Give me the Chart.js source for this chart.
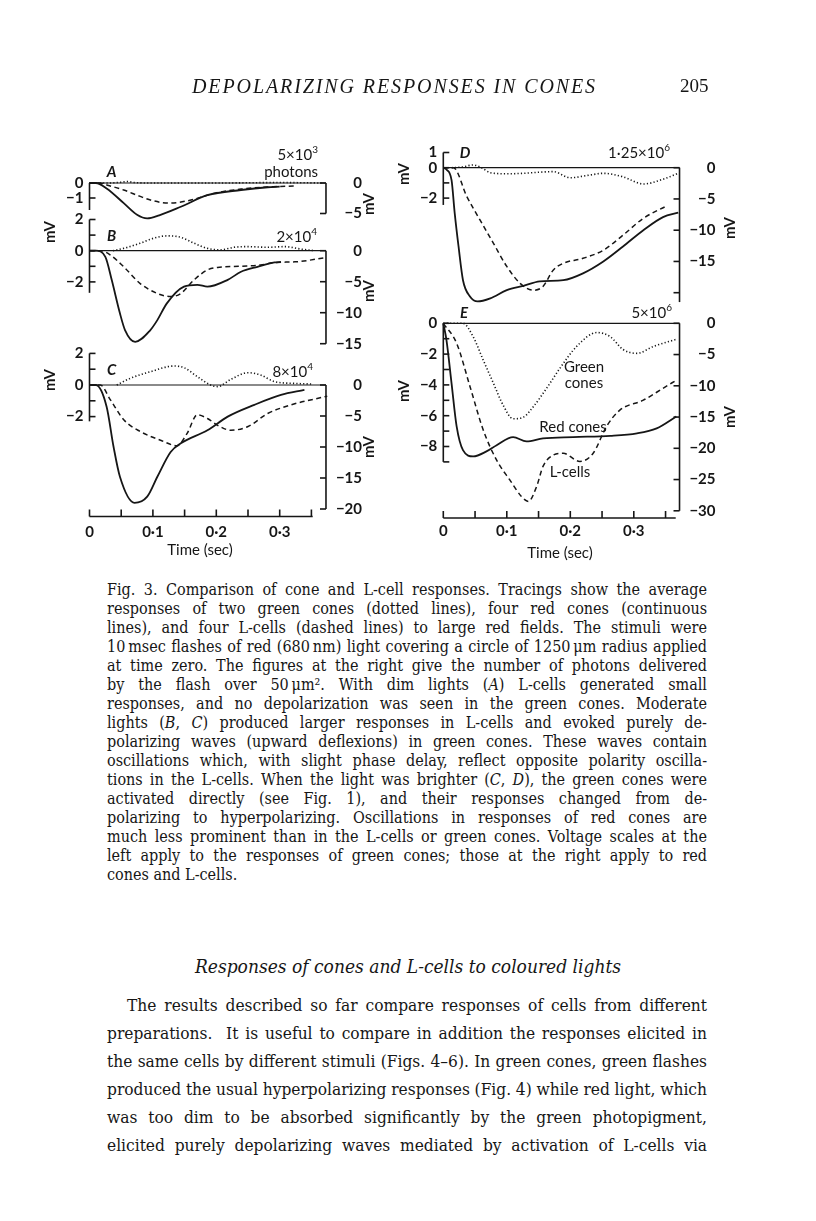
<!DOCTYPE html>
<html>
<head>
<meta charset="utf-8">
<title>Depolarizing responses in cones, Fig. 3</title>
<script src="https://cdn.jsdelivr.net/npm/chart.js@4.4.1/dist/chart.umd.min.js"></script>
<style>
  html, body { margin: 0; padding: 0; background: #fff; }
  body { position: relative; width: 816px; height: 1221px; overflow: hidden; color: #161616; font-family: "Liberation Serif", "DejaVu Serif", serif; }
  #fig { position: absolute; left: 0; top: 0; }
  .runhead { position: absolute; top: 75px; left: 192px; font-style: italic; font-size: 20px; letter-spacing: 1.9px; }
  .folio { position: absolute; top: 75px; left: 680px; font-size: 19px; }
  .book { font-family: "DejaVu Serif Condensed", "DejaVu Serif", serif; font-stretch: condensed; }
  .caption { position: absolute; left: 107px; top: 580px; font-size: 16px; line-height: 19px; }
  .heading { position: absolute; left: 0; width: 816px; top: 955px; text-align: center; font-style: italic; font-size: 19px; }
  .body { position: absolute; left: 107px; top: 991px; font-size: 17.2px; line-height: 28px; }
  .j { display: inline-block; white-space: pre; }
  .indent { padding-left: 20px; }
</style>
</head>
<body>
<canvas id="fig" width="816" height="570"></canvas>

<div class="runhead">DEPOLARIZING RESPONSES IN CONES</div>
<div class="folio">205</div>

<div class="caption book">
  <div><span class="j">Fig. 3. Comparison of cone and L-cell responses. Tracings show the average</span></div>
  <div><span class="j">responses of two green cones (dotted lines), four red cones (continuous</span></div>
  <div><span class="j">lines), and four L-cells (dashed lines) to large red fields. The stimuli were</span></div>
  <div><span class="j">10&#8201;msec flashes of red (680&#8201;nm) light covering a circle of 1250&#8201;μm radius applied</span></div>
  <div><span class="j">at time zero. The figures at the right give the number of photons delivered</span></div>
  <div><span class="j">by the flash over 50&#8201;μm². With dim lights (<i>A</i>) L-cells generated small</span></div>
  <div><span class="j">responses, and no depolarization was seen in the green cones. Moderate</span></div>
  <div><span class="j">lights (<i>B</i>, <i>C</i>) produced larger responses in L-cells and evoked purely de-</span></div>
  <div><span class="j">polarizing waves (upward deflexions) in green cones. These waves contain</span></div>
  <div><span class="j">oscillations which, with slight phase delay, reflect opposite polarity oscilla-</span></div>
  <div><span class="j">tions in the L-cells. When the light was brighter (<i>C</i>, <i>D</i>), the green cones were</span></div>
  <div><span class="j">activated directly (see Fig. 1), and their responses changed from de-</span></div>
  <div><span class="j">polarizing to hyperpolarizing. Oscillations in responses of red cones are</span></div>
  <div><span class="j">much less prominent than in the L-cells or green cones. Voltage scales at the</span></div>
  <div><span class="j">left apply to the responses of green cones; those at the right apply to red</span></div>
  <div><span>cones and L-cells.</span></div>
</div>

<div class="heading book">Responses of cones and L-cells to coloured lights</div>

<div class="body book">
  <div class="indent"><span class="j" data-w="580">The results described so far compare responses of cells from different</span></div>
  <div><span class="j">preparations.  It is useful to compare in addition the responses elicited in</span></div>
  <div><span class="j">the same cells by different stimuli (Figs. 4–6). In green cones, green flashes</span></div>
  <div><span class="j">produced the usual hyperpolarizing responses (Fig. 4) while red light, which</span></div>
  <div><span class="j">was too dim to be absorbed significantly by the green photopigment,</span></div>
  <div><span class="j">elicited purely depolarizing waves mediated by activation of L-cells via</span></div>
</div>

<script>
// tracings: time in sec, voltage in mV
// A: 5x10^3 photons
const aGreenT = [0, 0.03, 0.05, 0.06, 0.07, 0.1, 0.2, 0.3, 0.366];
const aGreenMv = [0, 0, 0.05, 0.1, 0.03, 0, 0, 0.03, 0];
const aRedT = [0, 0.01, 0.027, 0.054, 0.075, 0.091, 0.11, 0.144, 0.186, 0.239, 0.281, 0.3];
const aRedMv = [0, 0, -0.9, -3.3, -5.2, -5.8, -5.3, -3.9, -2.0, -1.15, -0.7, -0.6];
const aLcellT = [0, 0.016, 0.03, 0.054, 0.08, 0.1, 0.125, 0.16, 0.196, 0.239, 0.29, 0.326];
const aLcellMv = [0, 0, -0.4, -1.15, -2.2, -2.9, -3.3, -2.8, -1.7, -1.0, -0.6, -0.5];

// B: 2x10^4
const bGreenT = [0.037, 0.054, 0.08, 0.101, 0.122, 0.144, 0.165, 0.186, 0.207, 0.228, 0.25, 0.281, 0.308, 0.334, 0.355];
const bGreenMv = [0, 0.15, 0.48, 0.8, 0.95, 0.86, 0.48, 0.15, 0.05, 0.22, 0.26, 0.22, 0.26, 0.1, 0];
const bRedT = [0, 0.01, 0.025, 0.035, 0.048, 0.056, 0.072, 0.096, 0.107, 0.122, 0.149, 0.17, 0.186, 0.218, 0.239, 0.265, 0.292, 0.302];
const bRedMv = [0, 0, -1.0, -4.7, -10.1, -12.8, -14.7, -12.8, -11.2, -8.5, -5.8, -5.5, -5.8, -4.7, -3.4, -2.6, -1.9, -1.8];
const bLcellT = [0, 0.017, 0.033, 0.054, 0.08, 0.107, 0.128, 0.144, 0.165, 0.186, 0.202, 0.239, 0.27, 0.292, 0.324, 0.374];
const bLcellMv = [0, 0, -0.7, -2.6, -5.3, -6.9, -7.4, -6.9, -4.7, -3.1, -2.7, -2.5, -2.3, -1.9, -1.8, -1.1];

// C: 8x10^4
const cGreenT = [0.043, 0.064, 0.096, 0.133, 0.149, 0.17, 0.191, 0.202, 0.223, 0.25, 0.27, 0.292, 0.324, 0.35];
const cGreenMv = [0, 0.42, 0.84, 1.2, 1.1, 0.53, 0, -0.1, 0.36, 0.78, 0.63, 0.21, 0.1, 0.06];
const cRedT = [0, 0.01, 0.027, 0.038, 0.048, 0.071, 0.091, 0.107, 0.128, 0.144, 0.186, 0.218, 0.26, 0.302, 0.339];
const cRedMv = [0, 0, -3.5, -10, -14.8, -19.0, -18, -14.8, -10.8, -9.4, -7.3, -5.1, -3.2, -1.6, -0.8];
const cLcellT = [0, 0.017, 0.033, 0.054, 0.08, 0.112, 0.138, 0.154, 0.17, 0.186, 0.202, 0.223, 0.25, 0.281, 0.318, 0.375];
const cLcellMv = [0, 0, -2.4, -5.6, -7.5, -8.9, -9.8, -7.8, -4.8, -5.4, -6.5, -7.3, -6.7, -4.6, -3.2, -1.8];

// D: 1.25x10^6
const dGreenT = [0.013, 0.03, 0.047, 0.06, 0.074, 0.1, 0.126, 0.15, 0.173, 0.2, 0.231, 0.252, 0.283, 0.315, 0.346, 0.37];
const dGreenMv = [0, 0.05, 0.18, 0, -0.33, -0.4, -0.37, -0.3, -0.26, -0.66, -0.48, -0.37, -0.6, -1.07, -0.76, -0.37];
const dRedT = [0, 0.005, 0.013, 0.018, 0.024, 0.031, 0.042, 0.054, 0.074, 0.1, 0.126, 0.152, 0.189, 0.22, 0.252, 0.283, 0.315, 0.346, 0.37];
const dRedMv = [0, -0.3, -2.0, -7.3, -12.6, -18, -20.6, -21.4, -20.9, -19.6, -18.9, -18.2, -18, -16.9, -15, -12.6, -10, -7.9, -7.2];
const dLcellT = [0, 0.016, 0.037, 0.058, 0.079, 0.1, 0.121, 0.142, 0.157, 0.173, 0.189, 0.22, 0.252, 0.283, 0.315, 0.352];
const dLcellMv = [0, 0, -4.6, -8.4, -12.1, -15.8, -18.5, -19.6, -19.0, -16.4, -15.3, -14.5, -13.2, -10.8, -8.1, -6.1];

// E: 5x10^6
const eGreenT = [0, 0.031, 0.047, 0.063, 0.079, 0.094, 0.11, 0.126, 0.142, 0.163, 0.184, 0.21, 0.242, 0.263, 0.283, 0.305, 0.331, 0.367];
const eGreenMv = [0, 0, -0.87, -2.4, -3.9, -5.3, -6.2, -6.1, -5.4, -4.2, -2.9, -1.5, -0.6, -0.87, -1.7, -1.95, -1.5, -1.04];
const eRedT = [0, 0.005, 0.013, 0.021, 0.031, 0.047, 0.068, 0.084, 0.11, 0.131, 0.157, 0.205, 0.263, 0.305, 0.336, 0.367];
const eRedMv = [0, -2.7, -9.6, -16.5, -20.3, -21.3, -20.5, -19.5, -18.2, -18.9, -18.4, -18.2, -18, -17.6, -16.8, -14.9];
const eLcellT = [0, 0.021, 0.042, 0.063, 0.084, 0.105, 0.123, 0.134, 0.147, 0.157, 0.173, 0.189, 0.215, 0.236, 0.257, 0.278, 0.315, 0.346, 0.367];
const eLcellMv = [0, -3.2, -10.1, -17.1, -21.9, -25.1, -27.7, -28.5, -26.1, -22.9, -21.1, -20.8, -22.1, -20.8, -16.5, -13.9, -12.3, -10.4, -9.1];

// tick values and labels
const timeTicks = [0, 0.05, 0.1, 0.15, 0.2, 0.25, 0.3, 0.35];
const timeLabels = [0, 0.1, 0.2, 0.3];
const aLeftTicks = [0, -1], aLeftLabels = [0, -1], aRightTicks = [0, -5], aRightLabels = [0, -5];
const bLeftTicks = [2, 1, 0, -1, -2], bLeftLabels = [2, 0, -2], bRightTicks = [0, -5, -10, -15], bRightLabels = [0, -5, -10, -15];
const cLeftTicks = [2, 1, 0, -1, -2], cLeftLabels = [2, 0, -2], cRightTicks = [0, -5, -10, -15, -20], cRightLabels = [0, -5, -10, -15, -20];
const dLeftTicks = [1, 0, -1, -2], dLeftLabels = [1, 0, -2], dRightTicks = [0, -5, -10, -15, -20], dRightLabels = [0, -5, -10, -15];
const eLeftTicks = [0, -1, -2, -3, -4, -5, -6, -7, -8, -9], eLeftLabels = [0, -2, -4, -6, -8];
const eRightTicks = [0, -5, -10, -15, -20, -25, -30], eRightLabels = [0, -5, -10, -15, -20, -25, -30];

const ink = '#161616';
const figW = 816, figH = 570;
const figFont = 'Lato, "Open Sans", sans-serif';

// layout of the two columns: pixel of t = 0, px per second
const cols = {
  L: { x0: 89.5, k: 634, tEnd: 0.373, axisY: 516.5, axisEnd: 0.352, titleX: 200, titleY: 550, labelY: 532, unitDx: 43 },
  R: { x0: 443.3, k: 635, tEnd: 0.372, axisY: 518, axisEnd: 0.366, titleX: 560, titleY: 553, labelY: 531, unitDx: 51 }
};

// each panel: zero line pixel, px per mV for green (left) and red/L-cell (right) scales
const panels = [
  { id: 'A', col: 'L', zero: 183, gk: 15, rk: 6.1, gAxis: [0, -1.8], rAxis: -5,
    gTicks: aLeftTicks, gLabels: aLeftLabels, rTicks: aRightTicks, rLabels: aRightLabels,
    gUnitY: null, rUnitY: 204, letter: [111.7, 171.7], flash: ['5×10', '3', 318, 155], extra: ['photons', 318, 172] },
  { id: 'B', col: 'L', zero: 250.7, gk: 15.6, rk: 6.2, gAxis: [2, -2.7], rAxis: -15,
    gTicks: bLeftTicks, gLabels: bLeftLabels, rTicks: bRightTicks, rLabels: bRightLabels,
    gUnitY: 232, rUnitY: 291, letter: [111.7, 236], flash: ['2×10', '4', 317, 237] },
  { id: 'C', col: 'L', zero: 385, gk: 15.8, rk: 6.2, gAxis: [2, -2.3], rAxis: -20,
    gTicks: cLeftTicks, gLabels: cLeftLabels, rTicks: cRightTicks, rLabels: cRightLabels,
    gUnitY: 380, rUnitY: 447, letter: [111.7, 370], flash: ['8×10', '4', 313, 372] },
  { id: 'D', col: 'R', zero: 167.7, gk: 15.2, rk: 6.25, gAxis: [1, -2.45], rAxis: -21.5,
    gTicks: dLeftTicks, gLabels: dLeftLabels, rTicks: dRightTicks, rLabels: dRightLabels,
    gUnitY: 174, rUnitY: 228, letter: [465, 152.7], flash: ['1·25×10', '6', 670, 153] },
  { id: 'E', col: 'R', zero: 323.3, gk: 15.4, rk: 6.25, gAxis: [0, -9], rAxis: -30,
    gTicks: eLeftTicks, gLabels: eLeftLabels, rTicks: eRightTicks, rLabels: eRightLabels,
    gUnitY: 391, rUnitY: 417, letter: [464, 313.3], flash: ['5×10', '6', 672, 313] }
];

const curveNotes = [['Green', 584, 367], ['cones', 584, 383], ['Red cones', 573, 427], ['L-cells', 570, 472]];

const series = [
  ['A', 'green', aGreenT, aGreenMv], ['A', 'red', aRedT, aRedMv], ['A', 'lcell', aLcellT, aLcellMv],
  ['B', 'green', bGreenT, bGreenMv], ['B', 'red', bRedT, bRedMv], ['B', 'lcell', bLcellT, bLcellMv],
  ['C', 'green', cGreenT, cGreenMv], ['C', 'red', cRedT, cRedMv], ['C', 'lcell', cLcellT, cLcellMv],
  ['D', 'green', dGreenT, dGreenMv], ['D', 'red', dRedT, dRedMv], ['D', 'lcell', dLcellT, dLcellMv],
  ['E', 'green', eGreenT, eGreenMv], ['E', 'red', eRedT, eRedMv], ['E', 'lcell', eLcellT, eLcellMv]
];

const traceStyle = {
  green: { side: 'g', borderWidth: 1.6, borderDash: [1.2, 2.2] },
  red: { side: 'r', borderWidth: 1.8, borderDash: [] },
  lcell: { side: 'r', borderWidth: 1.5, borderDash: [5, 3.5] }
};

// scale ids must start with x / y, otherwise Chart.js guesses the axis
const yId = (side, id) => 'y' + side + id;

function stroke(ctx, x1, y1, x2, y2) {
  ctx.beginPath();
  ctx.moveTo(x1, y1);
  ctx.lineTo(x2, y2);
  ctx.stroke();
}

function mvText(v) {
  return v < 0 ? '−' + Math.abs(v) : String(v);
}

function timeText(t) {
  return t === 0 ? '0' : t.toFixed(1).replace('.', '·');
}

function verticalText(ctx, s, x, y) {
  ctx.save();
  ctx.translate(x, y);
  ctx.rotate(-Math.PI / 2);
  ctx.textAlign = 'center';
  ctx.fillText(s, 0, 0);
  ctx.restore();
}

// right-aligned "base" with a raised exponent
function powerText(ctx, base, exp, xRight, y) {
  ctx.font = '15px ' + figFont;
  const bw = ctx.measureText(base).width;
  ctx.font = '10px ' + figFont;
  const ew = ctx.measureText(exp).width;
  ctx.textAlign = 'left';
  ctx.fillText(exp, xRight - ew, y - 5);
  ctx.font = '15px ' + figFont;
  ctx.fillText(base, xRight - ew - bw, y);
}

const panelAxes = {
  id: 'panelAxes',
  beforeDatasetsDraw(chart) {
    const { ctx, scales } = chart;
    ctx.save();
    ctx.strokeStyle = ink;
    panels.forEach(p => {
      const col = cols[p.col];
      const xs = scales['x' + p.col], gs = scales[yId('g', p.id)], rs = scales[yId('r', p.id)];
      const xl = xs.getPixelForValue(0), xr = xs.getPixelForValue(col.tEnd);
      const y0 = rs.getPixelForValue(0);
      ctx.lineWidth = 1.2;
      stroke(ctx, xl, y0, xr, y0);
      ctx.lineWidth = 1.6;
      stroke(ctx, xl, gs.getPixelForValue(p.gAxis[0]), xl, gs.getPixelForValue(p.gAxis[1]));
      p.gTicks.forEach(v => {
        const y = gs.getPixelForValue(v);
        stroke(ctx, xl, y, xl + 6, y);
      });
      stroke(ctx, xr, y0, xr, rs.getPixelForValue(p.rAxis));
      p.rTicks.forEach(v => {
        const y = rs.getPixelForValue(v);
        stroke(ctx, xr - 6, y, xr, y);
      });
    });
    Object.keys(cols).forEach(c => {
      const col = cols[c], xs = scales['x' + c];
      ctx.lineWidth = 1.6;
      stroke(ctx, xs.getPixelForValue(0), col.axisY, xs.getPixelForValue(col.axisEnd), col.axisY);
      timeTicks.forEach(t => {
        const x = xs.getPixelForValue(t);
        stroke(ctx, x, col.axisY, x, col.axisY - 7);
      });
    });
    ctx.restore();
  },
  afterDatasetsDraw(chart) {
    const { ctx, scales } = chart;
    ctx.save();
    ctx.fillStyle = ink;
    ctx.textBaseline = 'middle';
    panels.forEach(p => {
      const col = cols[p.col];
      const xs = scales['x' + p.col], gs = scales[yId('g', p.id)], rs = scales[yId('r', p.id)];
      const xl = xs.getPixelForValue(0), xr = xs.getPixelForValue(col.tEnd);
      ctx.font = 'bold 15px ' + figFont;
      ctx.textAlign = 'right';
      p.gLabels.forEach(v => ctx.fillText(mvText(v), xl - 6, gs.getPixelForValue(v)));
      p.rLabels.forEach(v => ctx.fillText(mvText(v), xr + 36, rs.getPixelForValue(v)));
      if (p.gUnitY) verticalText(ctx, 'mV', xl - 39, p.gUnitY);
      verticalText(ctx, 'mV', xr + col.unitDx, p.rUnitY);
      ctx.font = 'italic bold 15px ' + figFont;
      ctx.textAlign = 'center';
      ctx.fillText(p.id, p.letter[0], p.letter[1]);
      powerText(ctx, p.flash[0], p.flash[1], p.flash[2], p.flash[3]);
      if (p.extra) {
        ctx.textAlign = 'right';
        ctx.fillText(p.extra[0], p.extra[1], p.extra[2]);
      }
    });
    Object.keys(cols).forEach(c => {
      const col = cols[c], xs = scales['x' + c];
      ctx.textAlign = 'center';
      ctx.font = 'bold 15px ' + figFont;
      timeLabels.forEach(t => ctx.fillText(timeText(t), xs.getPixelForValue(t), col.labelY));
      ctx.font = '15px ' + figFont;
      ctx.fillText('Time (sec)', col.titleX, col.titleY);
    });
    curveNotes.forEach(n => ctx.fillText(n[0], n[1], n[2]));
    ctx.restore();
  }
};

// every scale spans the whole canvas; bounds chosen so the frame lands where the figure has it
const scales = {};
Object.keys(cols).forEach(c => {
  const f = cols[c];
  const min = -f.x0 / f.k;
  scales['x' + c] = { type: 'linear', axis: 'x', display: false, bounds: 'data', min, max: min + figW / f.k };
});
panels.forEach(p => {
  ['g', 'r'].forEach(s => {
    const k = p[s + 'k'];
    const max = p.zero / k;
    scales[yId(s, p.id)] = { type: 'linear', axis: 'y', display: false, bounds: 'data', min: max - figH / k, max };
  });
});

const datasets = series.map(([id, kind, t, mv]) => {
  const panel = panels.find(p => p.id === id);
  const st = traceStyle[kind];
  return {
    label: id + ' ' + kind,
    data: t.map((x, i) => ({ x, y: mv[i] })),
    xAxisID: 'x' + panel.col,
    yAxisID: yId(st.side, id),
    borderColor: ink,
    borderWidth: st.borderWidth,
    borderDash: st.borderDash,
    pointRadius: 0,
    fill: false,
    cubicInterpolationMode: 'monotone'
  };
});

new Chart(document.getElementById('fig'), {
  type: 'line',
  data: { datasets },
  options: {
    responsive: false,
    animation: false,
    events: [],
    layout: { padding: 0 },
    plugins: { legend: { display: false }, tooltip: { enabled: false } },
    scales
  },
  plugins: [panelAxes]
});

// justify each printed line to the measure; lines that are too long get tighter letters first
function justifyLines() {
  document.querySelectorAll('.j').forEach(el => {
    el.style.wordSpacing = '0px';
    el.style.letterSpacing = '0px';
    const text = el.textContent;
    const gaps = (text.match(/ /g) || []).length;
    const target = el.dataset.w ? +el.dataset.w : 600;
    let w = el.getBoundingClientRect().width;
    if (gaps && (target - w) / gaps < -1) {
      el.style.letterSpacing = ((target - w + 1 * gaps) / text.length).toFixed(3) + 'px';
      w = el.getBoundingClientRect().width;
    }
    if (gaps) el.style.wordSpacing = ((target - w) / gaps).toFixed(2) + 'px';
  });
}
justifyLines();
if (document.fonts) document.fonts.ready.then(justifyLines);
</script>
</body>
</html>
